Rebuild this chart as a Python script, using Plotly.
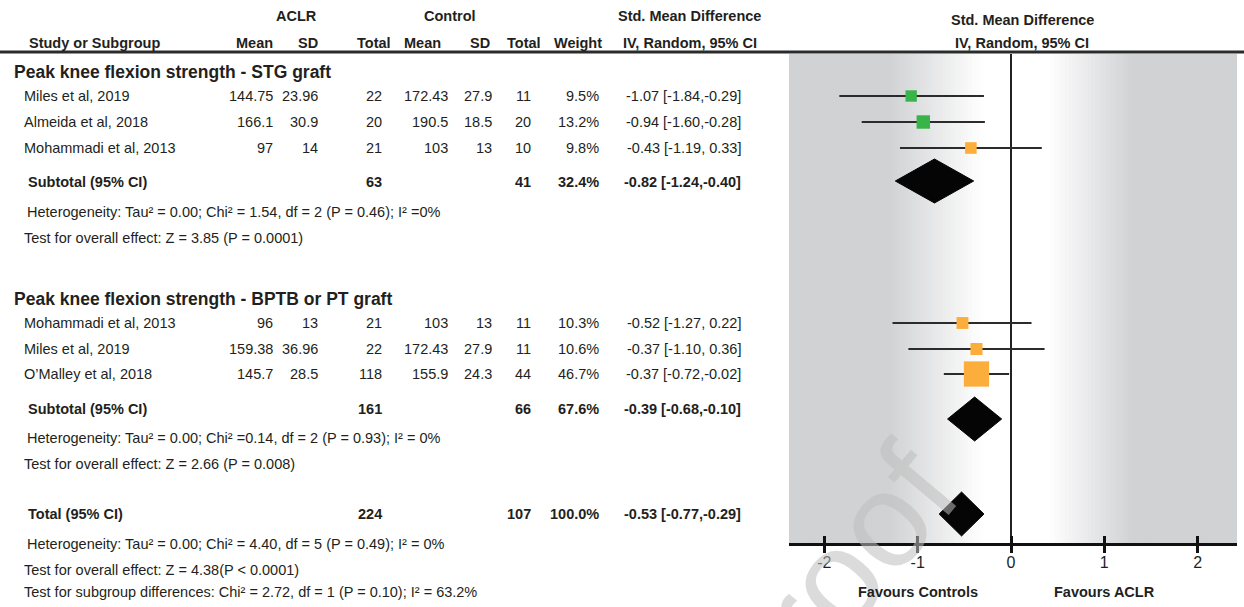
import math
import plotly.graph_objects as go

# ---------------- data ----------------
group_titles = ["Peak knee flexion strength - STG graft",
                "Peak knee flexion strength - BPTB or PT graft"]
study_names = ["Miles et al, 2019", "Almeida et al, 2018", "Mohammadi et al, 2013",
               "Mohammadi et al, 2013", "Miles et al, 2019", "O’Malley et al, 2018"]
aclr_mean = [144.75, 166.1, 97, 96, 159.38, 145.7]
aclr_sd = [23.96, 30.9, 14, 13, 36.96, 28.5]
aclr_n = [22, 20, 21, 21, 22, 118]
ctrl_mean = [172.43, 190.5, 103, 103, 172.43, 155.9]
ctrl_sd = [27.9, 18.5, 13, 13, 27.9, 24.3]
ctrl_n = [11, 20, 10, 11, 11, 44]
weight = [9.5, 13.2, 9.8, 10.3, 10.6, 46.7]
smd = [-1.07, -0.94, -0.43, -0.52, -0.37, -0.37]
ci_lo = [-1.84, -1.60, -1.19, -1.27, -1.10, -0.72]
ci_hi = [-0.29, -0.28, 0.33, 0.22, 0.36, -0.02]

pooled_labels = ["Subtotal (95% CI)", "Subtotal (95% CI)", "Total (95% CI)"]
pooled_n_aclr = [63, 161, 224]
pooled_n_ctrl = [41, 66, 107]
pooled_weight = [32.4, 67.6, 100.0]
pooled_smd = [-0.82, -0.39, -0.53]
pooled_lo = [-1.24, -0.68, -0.77]
pooled_hi = [-0.40, -0.10, -0.29]

stats_lines = [
    "Heterogeneity: Tau² = 0.00; Chi² = 1.54, df = 2 (P = 0.46); I² =0%",
    "Test for overall effect: Z = 3.85 (P = 0.0001)",
    "Heterogeneity: Tau² = 0.00; Chi² =0.14, df = 2 (P = 0.93); I² = 0%",
    "Test for overall effect: Z = 2.66 (P = 0.008)",
    "Heterogeneity: Tau² = 0.00; Chi² = 4.40, df = 5 (P = 0.49); I² = 0%",
    "Test for overall effect: Z = 4.38(P < 0.0001)",
    "Test for subgroup differences: Chi² = 2.72, df = 1 (P = 0.10); I² = 63.2%",
]
tick_vals = [-2, -1, 0, 1, 2]
tick_text = ["-2", "-1", "0", "1", "2"]
favour_labels = ["Favours Controls", "Favours ACLR"]
favour_x = [-1, 1]

# ---------------- layout / style ----------------
W, H = 1244, 607
FONT = "Liberation Sans, Arial, sans-serif"
TXT = "#231f20"
FS = 14.5
FSB = 14.5
FSG = 17.5
study_y = [96, 122, 148, 323, 349, 374]
group_y = [72, 299]
pooled_text_y = [182, 409, 514]
diamond_y = [181, 419, 514]
diamond_half = 22
stats_y = [212, 238, 438, 464, 544, 570, 592]
stats_x = [25, 22, 25, 22, 25, 22, 22]
marker_colors = ["#38b449", "#38b449", "#fbae3c", "#fbae3c", "#fbae3c", "#fbae3c"]
col_right = {"am": 275, "asd": 320, "an": 384, "cm": 450, "csd": 494, "cn": 533,
             "w": 601, "ci": 743}
PLOT_L, PLOT_R, PLOT_T, PLOT_B = 789, 1237, 54, 543
X0PX, PXU = 1011, 93.3
xrange = [(PLOT_L - X0PX) / PXU, (PLOT_R - X0PX) / PXU]


def px(x):
    return x / W


def py(y):
    return 1 - y / H


def fmt(v):
    return f"{v:g}"


def ci_text(e, lo, hi):
    return f"{e:.2f} [{lo:.2f},{hi:5.2f}]"


anns = []


def add_text(text, x, y, anchor="left", bold=False, size=FS):
    t = f"<b>{text}</b>" if bold else text
    anns.append(dict(text=t, x=px(x), y=py(y), xref="paper", yref="paper",
                     xanchor=anchor, yanchor="middle", showarrow=False,
                     font=dict(family=FONT, size=size, color=TXT)))


# watermark (first so it lies under the other texts)
anns.append(dict(text="Proof", x=px(826), y=py(588), xref="paper", yref="paper",
                 xanchor="center", yanchor="middle", showarrow=False, textangle=-50,
                 font=dict(family=FONT, size=134, color="rgba(190,190,190,0.55)")))

# headers
add_text("ACLR", 296, 16, "center", True, FSB)
add_text("Control", 450, 16, "center", True, FSB)
add_text("Std. Mean Difference", 689, 16, "center", True, FSB)
add_text("Study or Subgroup", 27, 43, "left", True, FSB)
add_text("Mean", 275, 43, "right", True, FSB)
add_text("SD", 320, 43, "right", True, FSB)
add_text("Total", 393, 43, "right", True, FSB)
add_text("Mean", 443, 43, "right", True, FSB)
add_text("SD", 492, 43, "right", True, FSB)
add_text("Total", 543, 43, "right", True, FSB)
add_text("Weight", 604, 43, "right", True, FSB)
add_text("IV, Random, 95% CI", 690, 43, "center", True, FSB)
add_text("Std. Mean Difference", 1022, 20, "center", True, FSB)
add_text("IV, Random, 95% CI", 1022, 43, "center", True, FSB)

for t, y in zip(group_titles, group_y):
    add_text(t, 12, y, "left", True, FSG)

for i, name in enumerate(study_names):
    y = study_y[i]
    add_text(name, 22, y)
    add_text(fmt(aclr_mean[i]), col_right["am"], y, "right")
    add_text(fmt(aclr_sd[i]), col_right["asd"], y, "right")
    add_text(fmt(aclr_n[i]), col_right["an"], y, "right")
    add_text(fmt(ctrl_mean[i]), col_right["cm"], y, "right")
    add_text(fmt(ctrl_sd[i]), col_right["csd"], y, "right")
    add_text(fmt(ctrl_n[i]), col_right["cn"], y, "right")
    add_text(f"{weight[i]:.1f}%", col_right["w"], y, "right")
    add_text(ci_text(smd[i], ci_lo[i], ci_hi[i]), col_right["ci"], y, "right")

for i, lab in enumerate(pooled_labels):
    y = pooled_text_y[i]
    add_text(lab, 26, y, "left", True, FSB)
    add_text(fmt(pooled_n_aclr[i]), col_right["an"], y, "right", True, FSB)
    add_text(fmt(pooled_n_ctrl[i]), col_right["cn"], y, "right", True, FSB)
    add_text(f"{pooled_weight[i]:.1f}%", col_right["w"], y, "right", True, FSB)
    add_text(ci_text(pooled_smd[i], pooled_lo[i], pooled_hi[i]), col_right["ci"], y,
             "right", True, FSB)

for s, x, y in zip(stats_lines, stats_x, stats_y):
    add_text(s, x, y)

for lab, xv in zip(favour_labels, favour_x):
    anns.append(dict(text=f"<b>{lab}</b>", x=xv, y=py(592), xref="x", yref="paper",
                     xanchor="center", yanchor="middle", showarrow=False,
                     font=dict(family=FONT, size=FSB, color=TXT)))

# ---------------- background gradient ----------------
GRAY = (209, 210, 212)


def shade(x):
    if x < 0:
        a, b = -1.3, -0.3
        t = 0 if x <= a else (1 if x >= b else (x - a) / (b - a))
    else:
        a, b = 1.3, 0.4
        t = 0 if x >= a else (1 if x <= b else (a - x) / (a - b))
    return tuple(round(g + (255 - g) * t) for g in GRAY)


shapes = []
n = 120
step = (xrange[1] - xrange[0]) / n
for k in range(n):
    x0 = xrange[0] + k * step
    c = shade(x0 + step / 2)
    shapes.append(dict(type="rect", xref="x", yref="y domain", x0=x0,
                       x1=min(x0 + step * 1.8, xrange[1]),
                       y0=0, y1=1, line=dict(width=0),
                       fillcolor=f"rgb({c[0]},{c[1]},{c[2]})", layer="below"))
shapes.append(dict(type="line", xref="paper", yref="paper", x0=0, x1=1,
                   y0=py(52), y1=py(52), line=dict(color="#2b2b2b", width=3)))

# ---------------- traces ----------------
fig = go.Figure()
lx, ly = [], []
for i in range(len(smd)):
    lx += [ci_lo[i], ci_hi[i], None]
    ly += [study_y[i], study_y[i], None]
fig.add_trace(go.Scatter(x=lx, y=ly, mode="lines", line=dict(color="#2b2b2b", width=2),
                         hoverinfo="skip", showlegend=False))
fig.add_trace(go.Scatter(x=smd, y=study_y, mode="markers",
                         marker=dict(symbol="square", size=[3.7 * math.sqrt(w) for w in weight],
                                     color=marker_colors, opacity=1, line=dict(width=0)),
                         showlegend=False))
dx, dy = [], []
for i in range(len(pooled_smd)):
    yc = diamond_y[i]
    dx += [pooled_lo[i], pooled_smd[i], pooled_hi[i], pooled_smd[i], pooled_lo[i], None]
    dy += [yc, yc - diamond_half, yc, yc + diamond_half, yc, None]
fig.add_trace(go.Scatter(x=dx, y=dy, mode="lines", fill="toself", fillcolor="#050505",
                         line=dict(color="#050505", width=1), showlegend=False))
# overlay axis for inward tick half
fig.add_trace(go.Scatter(x=[0], y=[PLOT_B], xaxis="x2", mode="markers",
                         marker=dict(opacity=0), showlegend=False, hoverinfo="skip"))

ydom = [1 - PLOT_B / H, 1 - PLOT_T / H]
xdom = [PLOT_L / W, PLOT_R / W]
fig.update_layout(
    width=W, height=H, margin=dict(l=0, r=0, t=0, b=0),
    paper_bgcolor="white", plot_bgcolor="rgba(0,0,0,0)",
    xaxis=dict(domain=xdom, range=xrange, tickvals=tick_vals, ticktext=tick_text,
               ticks="outside", ticklen=7, tickwidth=2.5, tickcolor="#111", showline=True,
               linecolor="#111", linewidth=2.5, showgrid=False, zeroline=True,
               zerolinecolor="#222", zerolinewidth=2, ticklabelstandoff=-4,
               tickfont=dict(family=FONT, size=16, color=TXT), anchor="y"),
    xaxis2=dict(domain=xdom, range=xrange, tickvals=tick_vals, ticks="inside",
                ticklen=7, tickwidth=2.5, tickcolor="#111", showticklabels=False,
                showgrid=False, zeroline=False, overlaying="x", anchor="y", side="bottom"),
    yaxis=dict(domain=ydom, range=[PLOT_B, PLOT_T], visible=False, showgrid=False,
               zeroline=False),
    annotations=anns, shapes=shapes,
)
fig.write_html("out.html", config={"displayModeBar": False},
               post_script="document.body.style.margin='0px';"
                           "document.body.style.overflow='hidden';")
